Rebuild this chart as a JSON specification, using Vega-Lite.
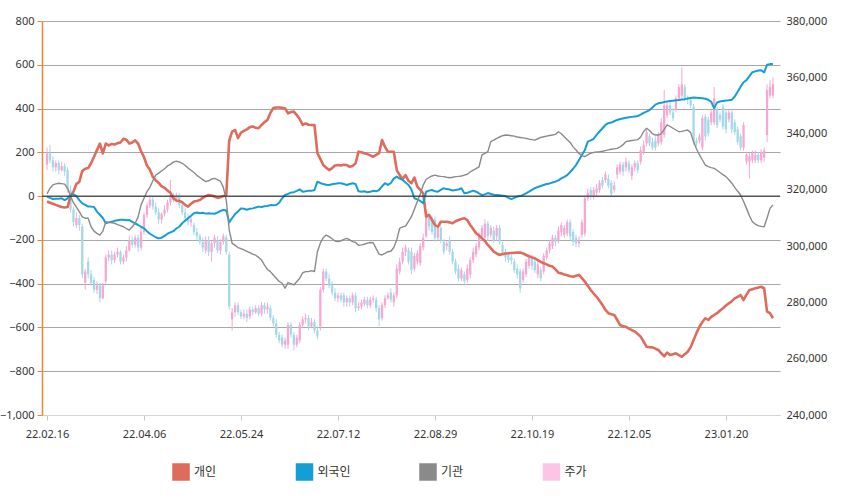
{
  "$schema": "https://vega.github.io/schema/vega-lite/v6.json",
  "width": 738,
  "height": 394,
  "autosize": {"type": "none"},
  "padding": {"left": 42, "top": 21, "right": 61, "bottom": 82},
  "background": "#ffffff",
  "config": {
    "view": {"stroke": null},
    "axis": {"labelFont": "Noto Sans", "labelFontSize": 11, "labelColor": "#333333"}
  },
  "data": {
    "values": [
      {"i":0,"o":329000,"h":335000,"l":327000,"c":333000,"개인":-25,"외국인":-2,"기관":10},
      {"i":1,"o":333000,"h":336000,"l":329500,"c":330500,"개인":-30,"외국인":-8,"기관":36},
      {"i":2,"o":330500,"h":332000,"l":326500,"c":328000,"개인":-35,"외국인":-13,"기관":51},
      {"i":3,"o":328000,"h":330500,"l":326500,"c":329500,"개인":-40,"외국인":-12,"기관":56},
      {"i":4,"o":329500,"h":330500,"l":325500,"c":327000,"개인":-45,"외국인":-12,"기관":59},
      {"i":5,"o":327000,"h":330000,"l":326500,"c":328500,"개인":-50,"외국인":-10,"기관":57},
      {"i":6,"o":328500,"h":329500,"l":325000,"c":326500,"개인":-52,"외국인":-18,"기관":55},
      {"i":7,"o":327000,"h":328000,"l":319000,"c":320000,"개인":-50,"외국인":-10,"기관":36},
      {"i":8,"o":320000,"h":321500,"l":312000,"c":313000,"개인":0,"외국인":5,"기관":0},
      {"i":9,"o":313000,"h":314000,"l":307000,"c":308500,"개인":20,"외국인":8,"기관":-30},
      {"i":10,"o":307500,"h":312000,"l":306500,"c":310000,"개인":55,"외국인":0,"기관":-50},
      {"i":11,"o":310000,"h":311000,"l":305500,"c":307500,"개인":65,"외국인":-18,"기관":-71},
      {"i":12,"o":307000,"h":308000,"l":288500,"c":290000,"개인":115,"외국인":-33,"기관":-95},
      {"i":13,"o":287000,"h":292000,"l":284500,"c":291000,"개인":125,"외국인":-40,"기관":-101},
      {"i":14,"o":294500,"h":296000,"l":288500,"c":290000,"개인":128,"외국인":-48,"기관":-101},
      {"i":15,"o":290000,"h":291500,"l":286000,"c":287000,"개인":150,"외국인":-48,"기관":-140},
      {"i":16,"o":288000,"h":289000,"l":283500,"c":284500,"개인":180,"외국인":-50,"기관":-160},
      {"i":17,"o":284500,"h":287500,"l":283000,"c":286000,"개인":210,"외국인":-71,"기관":-170},
      {"i":18,"o":286000,"h":287000,"l":280000,"c":281500,"개인":240,"외국인":-85,"기관":-178},
      {"i":19,"o":281500,"h":287000,"l":281000,"c":286000,"개인":195,"외국인":-100,"기관":-160},
      {"i":20,"o":287500,"h":297000,"l":286000,"c":296000,"개인":240,"외국인":-124,"기관":-117},
      {"i":21,"o":296000,"h":298500,"l":294500,"c":297000,"개인":232,"외국인":-120,"기관":-120},
      {"i":22,"o":297000,"h":298500,"l":293500,"c":295000,"개인":238,"외국인":-117,"기관":-122},
      {"i":23,"o":295000,"h":298000,"l":294000,"c":297000,"개인":236,"외국인":-113,"기관":-124},
      {"i":24,"o":297000,"h":299500,"l":296000,"c":298000,"개인":242,"외국인":-110,"기관":-130},
      {"i":25,"o":298000,"h":298500,"l":293500,"c":294500,"개인":245,"외국인":-108,"기관":-135},
      {"i":26,"o":294500,"h":297000,"l":293500,"c":296000,"개인":262,"외국인":-108,"기관":-140},
      {"i":27,"o":296000,"h":300000,"l":294500,"c":298500,"개인":258,"외국인":-110,"기관":-148},
      {"i":28,"o":298500,"h":303500,"l":298000,"c":302000,"개인":240,"외국인":-109,"기관":-155},
      {"i":29,"o":302000,"h":303500,"l":299500,"c":300500,"개인":245,"외국인":-118,"기관":-140},
      {"i":30,"o":300500,"h":304000,"l":299500,"c":303000,"개인":255,"외국인":-125,"기관":-124},
      {"i":31,"o":303000,"h":304000,"l":298000,"c":299500,"개인":240,"외국인":-132,"기관":-95},
      {"i":32,"o":299500,"h":306500,"l":298500,"c":305000,"개인":205,"외국인":-140,"기관":-40},
      {"i":33,"o":305000,"h":312000,"l":304000,"c":311000,"개인":178,"외국인":-147,"기관":-10},
      {"i":34,"o":311000,"h":315500,"l":310000,"c":314500,"개인":140,"외국인":-160,"기관":20},
      {"i":35,"o":314500,"h":318000,"l":313500,"c":316500,"개인":120,"외국인":-172,"기관":40},
      {"i":36,"o":316500,"h":317500,"l":313000,"c":314000,"개인":88,"외국인":-180,"기관":70},
      {"i":37,"o":314000,"h":315500,"l":311000,"c":312000,"개인":72,"외국인":-188,"기관":96},
      {"i":38,"o":312000,"h":313500,"l":308000,"c":309500,"개인":60,"외국인":-193,"기관":105},
      {"i":39,"o":309500,"h":312000,"l":308000,"c":311500,"개인":45,"외국인":-190,"기관":115},
      {"i":40,"o":311500,"h":314500,"l":310500,"c":313000,"개인":38,"외국인":-182,"기관":125},
      {"i":41,"o":313000,"h":316500,"l":312000,"c":315500,"개인":25,"외국인":-172,"기관":138},
      {"i":42,"o":315500,"h":323500,"l":314500,"c":318000,"개인":15,"외국인":-166,"기관":145},
      {"i":43,"o":318000,"h":319000,"l":315500,"c":316500,"개인":-10,"외국인":-160,"기관":155},
      {"i":44,"o":316500,"h":319000,"l":315500,"c":318000,"개인":-20,"외국인":-148,"기관":160},
      {"i":45,"o":318000,"h":319000,"l":313500,"c":314500,"개인":-22,"외국인":-140,"기관":156},
      {"i":46,"o":314500,"h":315500,"l":311000,"c":312000,"개인":-28,"외국인":-124,"기관":150},
      {"i":47,"o":312000,"h":313500,"l":308500,"c":310000,"개인":-40,"외국인":-112,"기관":140},
      {"i":48,"o":310000,"h":311500,"l":307500,"c":308500,"개인":-48,"외국인":-101,"기관":128},
      {"i":49,"o":308500,"h":310500,"l":307000,"c":309500,"개인":-35,"외국인":-90,"기관":118},
      {"i":50,"o":307500,"h":308500,"l":304000,"c":305000,"개인":-25,"외국인":-78,"기관":108},
      {"i":51,"o":305000,"h":306500,"l":302000,"c":303500,"개인":-22,"외국인":-75,"기관":95},
      {"i":52,"o":303500,"h":304500,"l":300500,"c":301500,"개인":-18,"외국인":-78,"기관":85},
      {"i":53,"o":301500,"h":303000,"l":298000,"c":299500,"개인":-8,"외국인":-76,"기관":75},
      {"i":54,"o":298500,"h":303500,"l":297500,"c":302000,"개인":0,"외국인":-80,"기관":66},
      {"i":55,"o":302000,"h":303500,"l":296500,"c":298000,"개인":5,"외국인":-78,"기관":70},
      {"i":56,"o":298000,"h":302000,"l":294500,"c":301000,"개인":3,"외국인":-80,"기관":78},
      {"i":57,"o":301000,"h":304000,"l":299500,"c":303000,"개인":-2,"외국인":-81,"기관":81},
      {"i":58,"o":302000,"h":303500,"l":297500,"c":298500,"개인":-8,"외국인":-75,"기관":75},
      {"i":59,"o":298500,"h":302500,"l":297000,"c":301500,"개인":-5,"외국인":-68,"기관":68},
      {"i":60,"o":301500,"h":304500,"l":300500,"c":303500,"개인":0,"외국인":-63,"기관":40},
      {"i":61,"o":303000,"h":304000,"l":297000,"c":298000,"개인":5,"외국인":-66,"기관":-18},
      {"i":62,"o":297000,"h":298000,"l":277500,"c":278500,"개인":255,"외국인":-120,"기관":-155},
      {"i":63,"o":274000,"h":278000,"l":270000,"c":276500,"개인":295,"외국인":-100,"기관":-216},
      {"i":64,"o":276500,"h":280000,"l":275000,"c":279000,"개인":302,"외국인":-82,"기관":-225},
      {"i":65,"o":279000,"h":280000,"l":275500,"c":276500,"개인":265,"외국인":-70,"기관":-235},
      {"i":66,"o":276500,"h":277500,"l":274000,"c":275000,"개인":290,"외국인":-56,"기관":-240},
      {"i":67,"o":275000,"h":277500,"l":274000,"c":276000,"개인":298,"외국인":-58,"기관":-246},
      {"i":68,"o":276000,"h":277500,"l":273000,"c":274500,"개인":305,"외국인":-62,"기관":-252},
      {"i":69,"o":275000,"h":278500,"l":274000,"c":277500,"개인":315,"외국인":-58,"기관":-258},
      {"i":70,"o":277500,"h":278500,"l":275500,"c":276500,"개인":318,"외국인":-56,"기관":-265},
      {"i":71,"o":276500,"h":279000,"l":276000,"c":278000,"개인":312,"외국인":-52,"기관":-270},
      {"i":72,"o":278000,"h":279000,"l":275000,"c":276000,"개인":310,"외국인":-48,"기관":-280},
      {"i":73,"o":276000,"h":280000,"l":275000,"c":279000,"개인":325,"외국인":-50,"기관":-292},
      {"i":74,"o":279000,"h":280000,"l":276000,"c":277500,"개인":338,"외국인":-46,"기관":-315},
      {"i":75,"o":277500,"h":280000,"l":276000,"c":278500,"개인":348,"외국인":-45,"기관":-335},
      {"i":76,"o":278000,"h":279000,"l":273500,"c":274500,"개인":380,"외국인":-41,"기관":-345},
      {"i":77,"o":274500,"h":275500,"l":271500,"c":272500,"개인":402,"외국인":-42,"기관":-360},
      {"i":78,"o":272500,"h":274000,"l":267500,"c":268500,"개인":405,"외국인":-41,"기관":-375},
      {"i":79,"o":268500,"h":269500,"l":265500,"c":266500,"개인":405,"외국인":-30,"기관":-390},
      {"i":80,"o":267500,"h":268500,"l":264000,"c":265000,"개인":403,"외국인":-10,"기관":-398},
      {"i":81,"o":265000,"h":267500,"l":263500,"c":266500,"개인":401,"외국인":5,"기관":-421},
      {"i":82,"o":265000,"h":273000,"l":263500,"c":272000,"개인":378,"외국인":10,"기관":-395},
      {"i":83,"o":272000,"h":273000,"l":267500,"c":268500,"개인":384,"외국인":16,"기관":-400},
      {"i":84,"o":268500,"h":269500,"l":263000,"c":265000,"개인":386,"외국인":18,"기관":-406},
      {"i":85,"o":265000,"h":268500,"l":264000,"c":267500,"개인":370,"외국인":24,"기관":-390},
      {"i":86,"o":266500,"h":273000,"l":265500,"c":272000,"개인":352,"외국인":31,"기관":-375},
      {"i":87,"o":272000,"h":275000,"l":271000,"c":274000,"개인":325,"외국인":20,"기관":-350},
      {"i":88,"o":274000,"h":276000,"l":272500,"c":274500,"개인":332,"외국인":22,"기관":-345},
      {"i":89,"o":274500,"h":275500,"l":270000,"c":271500,"개인":326,"외국인":25,"기관":-345},
      {"i":90,"o":271500,"h":274500,"l":271000,"c":273000,"개인":325,"외국인":24,"기관":-340},
      {"i":91,"o":273000,"h":274000,"l":269000,"c":270000,"개인":325,"외국인":28,"기관":-345},
      {"i":92,"o":270000,"h":271500,"l":267000,"c":268000,"개인":196,"외국인":66,"기관":-254},
      {"i":93,"o":271500,"h":285500,"l":270000,"c":284500,"개인":170,"외국인":60,"기관":-215},
      {"i":94,"o":284500,"h":292000,"l":283500,"c":291000,"개인":142,"외국인":55,"기관":-190},
      {"i":95,"o":291000,"h":292000,"l":287500,"c":288500,"개인":130,"외국인":52,"기관":-178},
      {"i":96,"o":288500,"h":290000,"l":285000,"c":286000,"개인":119,"외국인":51,"기관":-185},
      {"i":97,"o":286000,"h":287500,"l":282500,"c":283500,"개인":128,"외국인":54,"기관":-195},
      {"i":98,"o":283500,"h":285000,"l":280500,"c":281500,"개인":140,"외국인":56,"기관":-205},
      {"i":99,"o":281500,"h":283500,"l":280000,"c":282500,"개인":142,"외국인":59,"기관":-208},
      {"i":100,"o":282500,"h":283500,"l":280000,"c":281000,"개인":140,"외국인":59,"기관":-205},
      {"i":101,"o":282500,"h":283500,"l":278500,"c":280000,"개인":143,"외국인":55,"기관":-198},
      {"i":102,"o":280000,"h":282500,"l":278500,"c":281500,"개인":142,"외국인":51,"기관":-193},
      {"i":103,"o":281500,"h":282500,"l":278500,"c":280000,"개인":134,"외국인":55,"기관":-200},
      {"i":104,"o":280000,"h":283500,"l":279000,"c":282500,"개인":138,"외국인":59,"기관":-208},
      {"i":105,"o":282500,"h":283500,"l":276500,"c":278000,"개인":150,"외국인":55,"기관":-212},
      {"i":106,"o":278000,"h":280000,"l":277000,"c":278500,"개인":203,"외국인":22,"기관":-225},
      {"i":107,"o":278500,"h":281000,"l":277500,"c":280000,"개인":200,"외국인":20,"기관":-223},
      {"i":108,"o":279500,"h":282000,"l":278500,"c":281000,"개인":196,"외국인":22,"기관":-220},
      {"i":109,"o":281000,"h":282000,"l":278000,"c":279000,"개인":192,"외국인":18,"기관":-215},
      {"i":110,"o":279000,"h":282000,"l":278000,"c":281000,"개인":186,"외국인":20,"기관":-212},
      {"i":111,"o":281000,"h":282500,"l":280000,"c":281500,"개인":180,"외국인":24,"기관":-213},
      {"i":112,"o":281000,"h":282000,"l":276500,"c":278000,"개인":188,"외국인":22,"기관":-240},
      {"i":113,"o":278000,"h":279000,"l":271500,"c":274000,"개인":196,"외국인":28,"기관":-265},
      {"i":114,"o":274500,"h":280000,"l":273500,"c":279000,"개인":256,"외국인":45,"기관":-269},
      {"i":115,"o":279000,"h":282500,"l":278000,"c":281500,"개인":225,"외국인":59,"기관":-262},
      {"i":116,"o":281500,"h":283500,"l":281000,"c":282500,"개인":203,"외국인":51,"기관":-254},
      {"i":117,"o":283500,"h":285000,"l":280000,"c":281000,"개인":203,"외국인":60,"기관":-252},
      {"i":118,"o":280000,"h":283500,"l":278500,"c":282500,"개인":203,"외국인":80,"기관":-235},
      {"i":119,"o":282500,"h":293500,"l":281500,"c":292000,"개인":119,"외국인":89,"기관":-200},
      {"i":120,"o":291000,"h":296000,"l":290000,"c":294500,"개인":96,"외국인":80,"기관":-147},
      {"i":121,"o":294500,"h":299500,"l":293500,"c":298000,"개인":78,"외국인":74,"기관":-140},
      {"i":122,"o":298000,"h":300500,"l":296500,"c":299500,"개인":96,"외국인":62,"기관":-137},
      {"i":123,"o":298500,"h":299500,"l":293500,"c":294500,"개인":70,"외국인":51,"기관":-115},
      {"i":124,"o":298000,"h":299500,"l":290000,"c":291500,"개인":59,"외국인":30,"기관":-94},
      {"i":125,"o":292000,"h":297500,"l":291000,"c":296500,"개인":85,"외국인":-10,"기관":-60},
      {"i":126,"o":294500,"h":298500,"l":293500,"c":297500,"개인":43,"외국인":-15,"기관":-25},
      {"i":127,"o":294000,"h":301000,"l":293000,"c":300000,"개인":28,"외국인":-22,"기관":10},
      {"i":128,"o":299500,"h":304500,"l":298500,"c":303000,"개인":13,"외국인":-33,"기관":50},
      {"i":129,"o":303500,"h":313000,"l":303000,"c":312000,"개인":-94,"외국인":20,"기관":77},
      {"i":130,"o":310500,"h":311500,"l":305500,"c":307000,"개인":-86,"외국인":25,"기관":85},
      {"i":131,"o":309500,"h":310500,"l":304000,"c":305000,"개인":-109,"외국인":28,"기관":92},
      {"i":132,"o":309500,"h":310500,"l":301500,"c":303000,"개인":-132,"외국인":22,"기관":96},
      {"i":133,"o":303000,"h":307500,"l":302000,"c":306500,"개인":-140,"외국인":20,"기관":92},
      {"i":134,"o":306500,"h":307500,"l":301000,"c":302000,"개인":-117,"외국인":28,"기관":90},
      {"i":135,"o":301500,"h":302500,"l":297000,"c":298000,"개인":-117,"외국인":36,"기관":89},
      {"i":136,"o":300000,"h":302000,"l":298500,"c":301000,"개인":-117,"외국인":32,"기관":86},
      {"i":137,"o":302000,"h":303500,"l":297000,"c":298000,"개인":-120,"외국인":30,"기관":84},
      {"i":138,"o":298000,"h":299000,"l":293500,"c":294500,"개인":-124,"외국인":26,"기관":86},
      {"i":139,"o":294500,"h":295500,"l":290000,"c":291000,"개인":-115,"외국인":28,"기관":89},
      {"i":140,"o":292000,"h":293500,"l":287500,"c":288500,"개인":-109,"외국인":30,"기관":90},
      {"i":141,"o":288500,"h":292500,"l":287500,"c":291500,"개인":-105,"외국인":36,"기관":92},
      {"i":142,"o":290000,"h":291000,"l":286000,"c":287500,"개인":-101,"외국인":13,"기관":96},
      {"i":143,"o":288000,"h":293500,"l":287000,"c":292000,"개인":-110,"외국인":15,"기관":100},
      {"i":144,"o":290000,"h":296000,"l":288500,"c":295000,"개인":-132,"외국인":20,"기관":110},
      {"i":145,"o":295000,"h":299500,"l":294000,"c":298000,"개인":-150,"외국인":25,"기관":119},
      {"i":146,"o":297000,"h":301000,"l":296000,"c":300000,"개인":-170,"외국인":20,"기관":126},
      {"i":147,"o":299500,"h":305000,"l":298500,"c":304000,"개인":-180,"외국인":12,"기관":134},
      {"i":148,"o":303500,"h":307500,"l":302500,"c":306500,"개인":-193,"외국인":5,"기관":188},
      {"i":149,"o":303000,"h":309500,"l":302000,"c":308000,"개인":-205,"외국인":8,"기관":195},
      {"i":150,"o":308000,"h":309000,"l":302000,"c":303500,"개인":-223,"외국인":14,"기관":203},
      {"i":151,"o":304000,"h":307500,"l":303000,"c":306500,"개인":-238,"외국인":10,"기관":249},
      {"i":152,"o":305500,"h":307000,"l":301000,"c":302000,"개인":-254,"외국인":6,"기관":256},
      {"i":153,"o":303500,"h":307500,"l":302000,"c":306500,"개인":-262,"외국인":5,"기관":264},
      {"i":154,"o":306500,"h":307500,"l":300500,"c":301500,"개인":-269,"외국인":4,"기관":270},
      {"i":155,"o":300500,"h":301500,"l":297000,"c":298000,"개인":-265,"외국인":2,"기관":276},
      {"i":156,"o":298000,"h":299000,"l":294500,"c":296000,"개인":-262,"외국인":0,"기관":279},
      {"i":157,"o":297000,"h":298000,"l":294000,"c":295000,"개인":-261,"외국인":-8,"기관":278},
      {"i":158,"o":296000,"h":297000,"l":293500,"c":295000,"개인":-260,"외국인":-14,"기관":276},
      {"i":159,"o":294500,"h":295500,"l":290500,"c":291500,"개인":-259,"외국인":-8,"기관":274},
      {"i":160,"o":292000,"h":293500,"l":288500,"c":290000,"개인":-258,"외국인":-2,"기관":270},
      {"i":161,"o":291000,"h":292000,"l":283500,"c":285000,"개인":-258,"외국인":0,"기관":268},
      {"i":162,"o":288000,"h":292000,"l":287000,"c":291000,"개인":-262,"외국인":6,"기관":266},
      {"i":163,"o":290000,"h":295500,"l":289000,"c":294500,"개인":-269,"외국인":13,"기관":264},
      {"i":164,"o":293000,"h":297000,"l":292000,"c":296000,"개인":-275,"외국인":20,"기관":260},
      {"i":165,"o":296000,"h":297000,"l":291500,"c":293000,"개인":-280,"외국인":28,"기관":258},
      {"i":166,"o":294500,"h":295500,"l":290500,"c":291500,"개인":-284,"외국인":36,"기관":256},
      {"i":167,"o":290000,"h":294500,"l":288500,"c":293500,"개인":-292,"외국인":42,"기관":262},
      {"i":168,"o":291500,"h":292500,"l":287500,"c":288500,"개인":-300,"외국인":46,"기관":268},
      {"i":169,"o":291000,"h":297500,"l":290000,"c":296500,"개인":-307,"외국인":51,"기관":271},
      {"i":170,"o":296000,"h":299500,"l":295000,"c":298500,"개인":-312,"외국인":55,"기관":274},
      {"i":171,"o":298500,"h":302000,"l":297500,"c":301000,"개인":-318,"외국인":58,"기관":277},
      {"i":172,"o":300000,"h":304000,"l":299000,"c":303000,"개인":-322,"외국인":62,"기관":279},
      {"i":173,"o":303000,"h":304000,"l":300000,"c":301500,"개인":-335,"외국인":66,"기관":282},
      {"i":174,"o":302000,"h":307000,"l":301000,"c":305500,"개인":-350,"외국인":72,"기관":294},
      {"i":175,"o":305000,"h":308500,"l":303500,"c":307500,"개인":-353,"외국인":81,"기관":285},
      {"i":176,"o":304000,"h":307500,"l":303000,"c":306500,"개인":-358,"외국인":88,"기관":271},
      {"i":177,"o":304500,"h":309500,"l":303500,"c":308500,"개인":-362,"외국인":96,"기관":258},
      {"i":178,"o":308500,"h":309500,"l":302000,"c":303500,"개인":-366,"외국인":110,"기관":245},
      {"i":179,"o":305000,"h":306000,"l":300000,"c":301500,"개인":-368,"외국인":125,"기관":225},
      {"i":180,"o":303000,"h":304000,"l":299500,"c":301000,"개인":-364,"외국인":142,"기관":211},
      {"i":181,"o":301000,"h":303500,"l":299500,"c":302000,"개인":-360,"외국인":165,"기관":195},
      {"i":182,"o":304000,"h":309500,"l":303000,"c":308500,"개인":-375,"외국인":188,"기관":185},
      {"i":183,"o":304500,"h":318000,"l":303500,"c":317000,"개인":-391,"외국인":210,"기관":180},
      {"i":184,"o":317000,"h":320500,"l":316000,"c":319000,"개인":-410,"외국인":249,"기관":188},
      {"i":185,"o":320000,"h":321000,"l":316500,"c":318000,"개인":-429,"외국인":255,"기관":196},
      {"i":186,"o":318000,"h":321000,"l":316500,"c":320000,"개인":-445,"외국인":262,"기관":200},
      {"i":187,"o":319000,"h":322000,"l":318000,"c":320500,"개인":-460,"외국인":280,"기관":202},
      {"i":188,"o":320000,"h":323500,"l":319000,"c":322500,"개인":-478,"외국인":295,"기관":203},
      {"i":189,"o":323500,"h":324500,"l":320500,"c":321500,"개인":-497,"외국인":310,"기관":205},
      {"i":190,"o":323500,"h":326500,"l":322500,"c":325500,"개인":-520,"외국인":325,"기관":208},
      {"i":191,"o":324000,"h":325500,"l":320500,"c":321500,"개인":-535,"외국인":333,"기관":211},
      {"i":192,"o":322500,"h":323500,"l":317500,"c":318500,"개인":-540,"외국인":336,"기관":214},
      {"i":193,"o":320000,"h":323000,"l":319000,"c":321500,"개인":-543,"외국인":342,"기관":216},
      {"i":194,"o":325500,"h":329000,"l":324000,"c":328000,"개인":-565,"외국인":348,"기관":218},
      {"i":195,"o":326500,"h":330000,"l":325500,"c":329000,"개인":-589,"외국인":352,"기관":225},
      {"i":196,"o":329000,"h":330000,"l":325000,"c":326500,"개인":-595,"외국인":355,"기관":235},
      {"i":197,"o":328000,"h":331500,"l":326500,"c":330000,"개인":-597,"외국인":358,"기관":249},
      {"i":198,"o":329500,"h":330500,"l":326000,"c":327000,"개인":-605,"외국인":360,"기관":252},
      {"i":199,"o":325000,"h":329000,"l":323500,"c":328000,"개인":-612,"외국인":362,"기관":254},
      {"i":200,"o":328000,"h":330500,"l":326500,"c":329500,"개인":-619,"외국인":364,"기관":256},
      {"i":201,"o":329500,"h":330500,"l":326000,"c":327000,"개인":-630,"외국인":366,"기관":258},
      {"i":202,"o":330000,"h":335500,"l":329000,"c":334000,"개인":-642,"외국인":372,"기관":270},
      {"i":203,"o":333500,"h":337500,"l":332500,"c":336000,"개인":-665,"외국인":380,"기관":295},
      {"i":204,"o":336500,"h":341500,"l":335500,"c":340500,"개인":-688,"외국인":386,"기관":310},
      {"i":205,"o":339000,"h":340000,"l":335500,"c":336500,"개인":-690,"외국인":393,"기관":300},
      {"i":206,"o":337000,"h":338500,"l":334000,"c":335000,"개인":-691,"외국인":405,"기관":285},
      {"i":207,"o":337500,"h":339000,"l":334000,"c":335000,"개인":-697,"외국인":418,"기관":279},
      {"i":208,"o":336500,"h":340500,"l":335500,"c":339500,"개인":-703,"외국인":424,"기관":279},
      {"i":209,"o":337000,"h":345500,"l":336000,"c":344000,"개인":-718,"외국인":426,"기관":285},
      {"i":210,"o":339500,"h":355500,"l":338500,"c":350000,"개인":-732,"외국인":430,"기관":305},
      {"i":211,"o":346500,"h":351000,"l":345500,"c":350000,"개인":-715,"외국인":432,"기관":325},
      {"i":212,"o":350000,"h":351000,"l":346500,"c":347500,"개인":-726,"외국인":434,"기관":318},
      {"i":213,"o":347500,"h":349000,"l":344500,"c":345500,"개인":-722,"외국인":436,"기관":310},
      {"i":214,"o":348500,"h":353500,"l":347500,"c":352500,"개인":-718,"외국인":438,"기관":302},
      {"i":215,"o":352500,"h":357500,"l":351500,"c":356500,"개인":-726,"외국인":439,"기관":294},
      {"i":216,"o":353500,"h":363500,"l":352500,"c":357500,"개인":-734,"외국인":441,"기관":296},
      {"i":217,"o":356500,"h":357500,"l":351500,"c":352500,"개인":-722,"외국인":443,"기관":299},
      {"i":218,"o":352500,"h":353500,"l":350500,"c":352000,"개인":-711,"외국인":446,"기관":302},
      {"i":219,"o":352000,"h":353000,"l":349000,"c":350000,"개인":-690,"외국인":448,"기관":290},
      {"i":220,"o":349500,"h":350500,"l":336000,"c":337000,"개인":-657,"외국인":450,"기관":249},
      {"i":221,"o":337500,"h":338500,"l":335500,"c":336500,"개인":-625,"외국인":449,"기관":215},
      {"i":222,"o":337500,"h":340000,"l":336500,"c":339000,"개인":-597,"외국인":448,"기관":188},
      {"i":223,"o":335000,"h":346500,"l":334000,"c":345500,"개인":-575,"외국인":447,"기관":165},
      {"i":224,"o":346000,"h":347000,"l":337500,"c":339000,"개인":-558,"외국인":445,"기관":142},
      {"i":225,"o":345000,"h":346000,"l":339000,"c":340000,"개인":-566,"외국인":440,"기관":135},
      {"i":226,"o":344000,"h":348500,"l":343000,"c":347500,"개인":-552,"외국인":431,"기관":130},
      {"i":227,"o":344000,"h":356500,"l":343000,"c":352500,"개인":-543,"외국인":401,"기관":127},
      {"i":228,"o":348500,"h":349500,"l":342000,"c":343000,"개인":-535,"외국인":428,"기관":118},
      {"i":229,"o":346500,"h":347500,"l":344000,"c":345000,"개인":-523,"외국인":432,"기관":108},
      {"i":230,"o":349500,"h":350500,"l":341500,"c":342500,"개인":-512,"외국인":435,"기관":98},
      {"i":231,"o":347500,"h":348500,"l":340000,"c":341500,"개인":-500,"외국인":437,"기관":89},
      {"i":232,"o":345000,"h":348500,"l":344000,"c":347500,"개인":-490,"외국인":438,"기관":75},
      {"i":233,"o":347500,"h":348500,"l":340000,"c":341500,"개인":-480,"외국인":440,"기관":59},
      {"i":234,"o":344000,"h":345000,"l":339500,"c":340500,"개인":-467,"외국인":455,"기관":40},
      {"i":235,"o":341500,"h":342500,"l":336000,"c":337000,"개인":-460,"외국인":477,"기관":22},
      {"i":236,"o":339000,"h":340000,"l":334000,"c":335000,"개인":-452,"외국인":500,"기관":5},
      {"i":237,"o":335000,"h":344000,"l":334000,"c":343000,"개인":-475,"외국인":520,"기관":-25},
      {"i":238,"o":330000,"h":333500,"l":329000,"c":332500,"개인":-450,"외국인":530,"기관":-56},
      {"i":239,"o":330000,"h":333000,"l":324000,"c":332000,"개인":-429,"외국인":548,"기관":-90},
      {"i":240,"o":330500,"h":334000,"l":329500,"c":333000,"개인":-425,"외국인":566,"기관":-117},
      {"i":241,"o":330500,"h":334000,"l":329500,"c":332500,"개인":-421,"외국인":570,"기관":-128},
      {"i":242,"o":332500,"h":333500,"l":329500,"c":330500,"개인":-418,"외국인":574,"기관":-135},
      {"i":243,"o":330500,"h":334500,"l":329500,"c":333500,"개인":-414,"외국인":575,"기관":-138},
      {"i":244,"o":331500,"h":335000,"l":330000,"c":334000,"개인":-421,"외국인":565,"기관":-140},
      {"i":245,"o":339500,"h":357500,"l":337000,"c":355500,"개인":-528,"외국인":600,"기관":-100},
      {"i":246,"o":353500,"h":359000,"l":352500,"c":356500,"개인":-535,"외국인":603,"기관":-56},
      {"i":247,"o":353500,"h":360000,"l":352500,"c":357500,"개인":-558,"외국인":604,"기관":-40}
    ]
  },
  "layer": [
    {
      "layer": [
        {
          "mark": {"type": "rule", "strokeWidth": 1},
          "encoding": {
            "x": {"field": "i", "type": "quantitative", "scale": {"domain": [0, 247.7], "nice": false, "zero": false},
              "axis": {"values": [0, 33, 66, 99, 132, 165, 198, 231], "labelExpr": "['22.02.16','22.04.06','22.05.24','22.07.12','22.08.29','22.10.19','22.12.05','23.01.20'][round(datum.value / 33)]", "grid": false, "domainColor": "#d4d4d4", "tickColor": "#c8c8c8", "tickSize": 5, "labelPadding": 8, "title": null}},
            "y": {"field": "h", "type": "quantitative", "scale": {"domain": [240000, 380000], "nice": false, "zero": false},
              "axis": {"orient": "right", "values": [240000, 260000, 280000, 300000, 320000, 340000, 360000, 380000], "format": ",d", "grid": false, "domain": false, "ticks": false, "labelPadding": 6, "title": null}},
            "y2": {"field": "l"},
            "color": {"condition": {"test": "datum.c >= datum.o", "value": "#f6a8d3"}, "value": "#a4d8e8"}
          }
        },
        {
          "mark": {"type": "bar", "size": 2.3},
          "encoding": {
            "x": {"field": "i", "type": "quantitative", "scale": {"domain": [0, 247.7], "nice": false, "zero": false},
              "axis": {"values": [0, 33, 66, 99, 132, 165, 198, 231], "labelExpr": "['22.02.16','22.04.06','22.05.24','22.07.12','22.08.29','22.10.19','22.12.05','23.01.20'][round(datum.value / 33)]", "grid": false, "domainColor": "#d4d4d4", "tickColor": "#c8c8c8", "tickSize": 5, "labelPadding": 8, "title": null}},
            "y": {"field": "o", "type": "quantitative", "scale": {"domain": [240000, 380000], "nice": false, "zero": false},
              "axis": {"orient": "right", "values": [240000, 260000, 280000, 300000, 320000, 340000, 360000, 380000], "format": ",d", "grid": false, "domain": false, "ticks": false, "labelPadding": 6, "title": null}},
            "y2": {"field": "c"},
            "color": {"condition": {"test": "datum.c >= datum.o", "value": "#f6a8d3"}, "value": "#a4d8e8"}
          }
        }
      ]
    },
    {
      "layer": [
        {
          "transform": [{"fold": ["개인", "외국인", "기관"], "as": ["s", "v"]}],
          "mark": {"type": "line", "strokeJoin": "round"},
          "encoding": {
            "x": {"field": "i", "type": "quantitative", "scale": {"domain": [0, 247.7], "nice": false, "zero": false},
              "axis": {"values": [0, 33, 66, 99, 132, 165, 198, 231], "labelExpr": "['22.02.16','22.04.06','22.05.24','22.07.12','22.08.29','22.10.19','22.12.05','23.01.20'][round(datum.value / 33)]", "grid": false, "domainColor": "#d4d4d4", "tickColor": "#c8c8c8", "tickSize": 5, "labelPadding": 8, "title": null}},
            "y": {"field": "v", "type": "quantitative", "scale": {"domain": [-1000, 800], "nice": false, "zero": false},
              "axis": {"orient": "left", "values": [-1000, -800, -600, -400, -200, 0, 200, 400, 600, 800], "format": ",d", "grid": true,
                "gridColor": {"condition": {"test": "datum.value === -1000", "value": "#d4d4d4"}, "value": "#a8a8a8"},
                "domainColor": "#ef8532", "domainWidth": 1.5, "tickColor": "#ef8532", "tickSize": 5, "labelPadding": 3, "title": null}},
            "color": {"field": "s", "type": "nominal",
              "scale": {"domain": ["개인", "외국인", "기관", "주가"], "range": ["#de6b5b", "#139fd6", "#8a8a8a", "#fcc5e6"]},
              "legend": {"title": null, "orient": "none", "legendX": 130, "legendY": 442, "direction": "horizontal", "columns": 4, "gridAlign": "all", "columnPadding": 65.5,
                "symbolType": "square", "symbolSize": 256, "labelFont": "Noto Sans CJK KR", "labelFontSize": 12, "labelColor": "#333333", "labelOffset": 4,
                "encode": {"symbols": {"update": {
                  "fill": {"signal": "datum.value === '주가' ? '#fcc5e6' : scale('color', datum.value)"},
                  "stroke": {"signal": "datum.value === '주가' ? '#e0449e' : scale('color', datum.value)"},
                  "strokeWidth": {"value": 1.5},
                  "opacity": {"value": 1}
                }}}}},
            "strokeWidth": {"field": "s", "type": "nominal", "scale": {"domain": ["개인", "외국인", "기관"], "range": [2.6, 1.4, 1.2]}, "legend": null}
          }
        },
        {
          "data": {"values": [{"z": 0}]},
          "mark": {"type": "rule", "color": "#222222", "strokeWidth": 1},
          "encoding": {
            "y": {"field": "z", "type": "quantitative", "scale": {"domain": [-1000, 800], "nice": false, "zero": false},
              "axis": {"orient": "left", "values": [-1000, -800, -600, -400, -200, 0, 200, 400, 600, 800], "format": ",d", "grid": true,
                "gridColor": {"condition": {"test": "datum.value === -1000", "value": "#d4d4d4"}, "value": "#a8a8a8"},
                "domainColor": "#ef8532", "domainWidth": 1.5, "tickColor": "#ef8532", "tickSize": 5, "labelPadding": 3, "title": null}}
          }
        }
      ]
    }
  ],
  "resolve": {"scale": {"y": "independent"}}
}
